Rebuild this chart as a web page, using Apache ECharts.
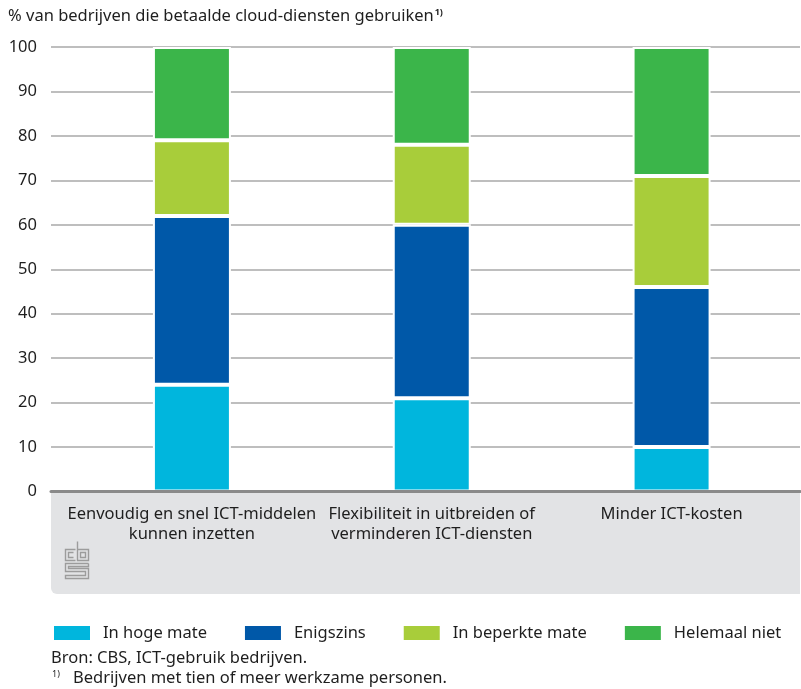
<!DOCTYPE html>
<html>
<head>
<meta charset="utf-8">
<script src="https://cdn.jsdelivr.net/npm/echarts@6/dist/echarts.min.js"></script>
<style>
  html, body { margin: 0; padding: 0; background: #fff; }
  #chart { width: 801px; height: 689px; }
</style>
</head>
<body>
<div id="chart"></div>
<script>
// Reasons for using paid cloud services (% of firms)
const categories = [
  'Eenvoudig en snel ICT-middelen\nkunnen inzetten',
  'Flexibiliteit in uitbreiden of\nverminderen ICT-diensten',
  'Minder ICT-kosten'
];
const inHogeMate = [24, 21, 10];
const enigszins = [38, 39, 36];
const inBeperkteMate = [17, 18, 25];
const helemaalNiet = [21, 22, 29];
const seriesNames = ['In hoge mate', 'Enigszins', 'In beperkte mate', 'Helemaal niet'];
const seriesColors = ['#00b6dd', '#0058a8', '#a8cd3a', '#3bb54a'];
const yMin = 0, yMax = 100, yStep = 10;

const FONT = '"Noto Sans", "DejaVu Sans", sans-serif';
const FS = 16.5;
const TEXT = '#1e1e1e';

const chart = echarts.init(document.getElementById('chart'));

const values = [inHogeMate, enigszins, inBeperkteMate, helemaalNiet];
const series = values.map((v, i) => ({
  name: seriesNames[i],
  type: 'bar',
  stack: 'total',
  xAxisIndex: 1,
  yAxisIndex: 1,
  barWidth: 78,
  data: v,
  itemStyle: { color: seriesColors[i], borderColor: '#ffffff', borderWidth: 2 },
  emphasis: { disabled: true }
}));

// CBS mark in the category band
const logoStroke = { stroke: '#9c9c9c', lineWidth: 1.4, fill: null };
const logo = {
  type: 'group', left: 63, top: 539, z: 1,
  children: [
    { type: 'polyline', shape: { points: [[11, 8], [1, 8], [1, 19], [11, 19]] }, style: logoStroke },
    { type: 'polyline', shape: { points: [[9, 11], [4, 11], [4, 16], [9, 16]] }, style: logoStroke },
    { type: 'polyline', shape: { points: [[13, 0], [13, 19], [24, 19], [24, 8], [13, 8]] }, style: logoStroke },
    { type: 'rect', shape: { x: 16, y: 11, width: 5, height: 5 }, style: logoStroke },
    { type: 'polyline', shape: { points: [[24, 22], [1, 22], [1, 30], [21, 30], [21, 34], [1, 34], [1, 37], [24, 37], [24, 27], [4, 27], [4, 25], [24, 25], [24, 22]] }, style: logoStroke }
  ]
};

chart.setOption({
  animation: false,
  textStyle: { fontFamily: FONT },
  title: {
    left: 8, top: 8, padding: 0,
    text: '{m|% van bedrijven die betaalde cloud-diensten gebruiken}{s|1)}',
    textStyle: {
      rich: {
        m: { fontFamily: FONT, fontSize: FS, color: TEXT, fontWeight: 'normal' },
        s: { fontFamily: FONT, fontSize: 9, color: TEXT, verticalAlign: 'top', padding: [0, 0, 7, 1] }
      }
    }
  },
  legend: {
    left: 52, top: 624, padding: 0,
    itemWidth: 38, itemHeight: 16, itemGap: 36,
    icon: 'rect',
    data: seriesNames,
    textStyle: { fontFamily: FONT, fontSize: FS, color: TEXT, padding: [0, 0, 0, 7] },
    selectedMode: false
  },
  grid: [
    { left: 51, right: 1, top: 47, bottom: 197.5 },
    { left: 72, right: 9.5, top: 47, bottom: 197.5 }
  ],
  xAxis: [
    {
      gridIndex: 0, type: 'value', min: 0, max: 1, z: 10,
      axisLine: { show: true, lineStyle: { color: '#8a8a8a', width: 3 } },
      axisTick: { show: false }, axisLabel: { show: false }, splitLine: { show: false }
    },
    {
      gridIndex: 1, type: 'category', data: categories, z: 5,
      axisLine: { show: false }, axisTick: { show: false },
      axisLabel: { fontFamily: FONT, fontSize: FS, color: TEXT, lineHeight: 20, margin: 13, interval: 0, align: 'center' }
    }
  ],
  yAxis: [
    {
      gridIndex: 0, type: 'value', min: yMin, max: yMax, interval: yStep, z: 0,
      axisLine: { show: false }, axisTick: { show: false },
      axisLabel: { fontFamily: FONT, fontSize: FS, color: TEXT, margin: 14 },
      splitLine: { lineStyle: { color: '#a8a8a8', width: 1.5 } }
    },
    {
      gridIndex: 1, type: 'value', min: yMin, max: yMax, interval: yStep, show: false,
      splitLine: { show: false }
    }
  ],
  graphic: [
    {
      type: 'rect', z: -1, left: 51, top: 491,
      shape: { width: 749, height: 103, r: [0, 0, 0, 6] },
      style: { fill: '#e2e3e5' }
    },
    logo,
    {
      type: 'text', left: 51, top: 650,
      style: { text: 'Bron: CBS, ICT-gebruik bedrijven.', font: FS + 'px ' + FONT, fill: TEXT }
    },
    {
      type: 'text', left: 52, top: 670,
      style: { text: '1)', font: '9px ' + FONT, fill: TEXT }
    },
    {
      type: 'text', left: 73, top: 670,
      style: { text: 'Bedrijven met tien of meer werkzame personen.', font: FS + 'px ' + FONT, fill: TEXT }
    }
  ],
  series: series
});
</script>
</body>
</html>
